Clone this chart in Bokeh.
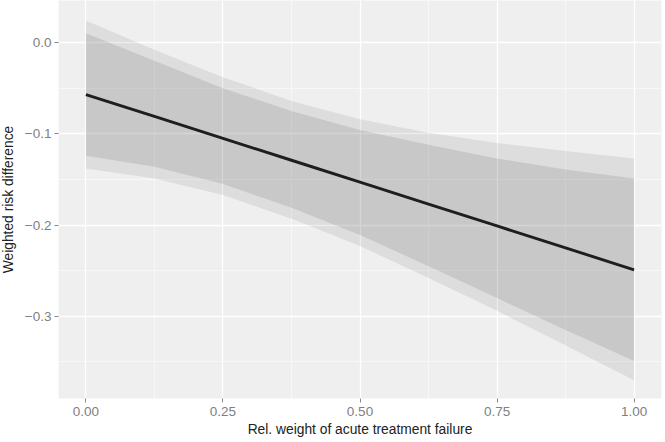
from bokeh.plotting import figure
from bokeh.models import Range1d, FixedTicker, ColumnDataSource
from bokeh.embed import file_html
from bokeh.resources import INLINE

# Data
x = [0.0, 0.125, 0.25, 0.375, 0.5, 0.625, 0.75, 0.875, 1.0]
estimate = [-0.057, -0.081, -0.105, -0.129, -0.153, -0.177, -0.201, -0.225, -0.249]
outer_upper = [0.024, -0.008, -0.038, -0.064, -0.084, -0.099, -0.110, -0.119, -0.127]
inner_upper = [0.010, -0.020, -0.050, -0.075, -0.096, -0.112, -0.127, -0.139, -0.149]
inner_lower = [-0.124, -0.136, -0.155, -0.181, -0.211, -0.245, -0.280, -0.315, -0.349]
outer_lower = [-0.138, -0.149, -0.167, -0.193, -0.223, -0.258, -0.294, -0.332, -0.370]

x_ticks = [0.0, 0.25, 0.5, 0.75, 1.0]
x_tick_labels = ["0.00", "0.25", "0.50", "0.75", "1.00"]
x_minor = [0.125, 0.375, 0.625, 0.875]
y_ticks = [-0.3, -0.2, -0.1, 0.0]
y_tick_labels = ["\u22120.3", "\u22120.2", "\u22120.1", "0.0"]
y_minor = [-0.35, -0.25, -0.15, -0.05]

src = ColumnDataSource(dict(x=x, est=estimate, ou=outer_upper, iu=inner_upper,
                            il=inner_lower, ol=outer_lower))

p = figure(width=669, height=442, output_backend="svg", toolbar_location=None,
           x_range=Range1d(-0.05, 1.05), y_range=Range1d(-0.39, 0.046))
p.margin = (0, 0, 0, -4)
p.min_border_left = 62
p.min_border_right = 4
p.min_border_top = 0
p.min_border_bottom = 44
p.outline_line_color = None
p.background_fill_color = "#EFEFEF"
p.border_fill_color = "white"

p.varea(x="x", y1="ol", y2="ou", source=src, fill_color="black", fill_alpha=0.075)
p.varea(x="x", y1="il", y2="iu", source=src, fill_color="black", fill_alpha=0.095)
p.line(x="x", y="est", source=src, line_color="#1e1e1e", line_width=2.9)

p.xaxis.ticker = FixedTicker(ticks=x_ticks, minor_ticks=x_minor)
p.yaxis.ticker = FixedTicker(ticks=y_ticks, minor_ticks=y_minor)
p.xaxis.major_label_overrides = {t: l for t, l in zip(x_ticks, x_tick_labels)}
p.yaxis.major_label_overrides = {t: l for t, l in zip(y_ticks, y_tick_labels)}

for ax in (p.xaxis, p.yaxis):
    ax.axis_line_color = None
    ax.major_tick_in = 0
    ax.major_tick_out = 4
    ax.major_tick_line_color = "#888888"
    ax.minor_tick_line_color = None
    ax.major_label_text_font = "Liberation Sans"
    ax.major_label_text_font_size = "13.5px"
    ax.major_label_text_color = "#808080"
    ax.axis_label_text_font = "Liberation Sans"
    ax.axis_label_text_font_size = "13.8px"
    ax.axis_label_text_font_style = "normal"
    ax.axis_label_text_color = "#222222"
    ax.major_label_standoff = 3

p.xaxis.major_label_standoff = 4
p.xaxis.axis_label = "Rel. weight of acute treatment failure"
p.yaxis.axis_label = "Weighted risk difference"
p.xaxis.axis_label_standoff = 3
p.yaxis.axis_label_standoff = 6

for g in (p.xgrid, p.ygrid):
    g.grid_line_color = "white"
    g.grid_line_width = 1.3
    g.minor_grid_line_color = "white"
    g.minor_grid_line_width = 0.6
    g.minor_grid_line_alpha = 0.8

open("out.html", "w").write(file_html(p, INLINE))
